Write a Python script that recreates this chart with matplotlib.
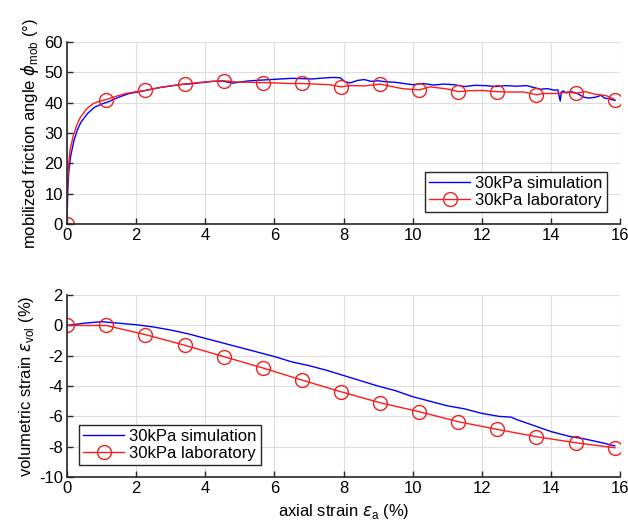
import matplotlib
matplotlib.use("Agg")
import matplotlib.pyplot as plt

plt.rcParams["font.family"] = ["Liberation Sans", "DejaVu Sans"]
plt.rcParams["mathtext.fontset"] = "custom"
plt.rcParams["mathtext.rm"] = "Liberation Sans"
plt.rcParams["mathtext.it"] = "DejaVu Sans:italic"
plt.rcParams["axes.unicode_minus"] = False

# friction angle, laboratory (dense curve) and marker positions
lab_x = [0, 0.02, 0.05, 0.09, 0.18, 0.28, 0.38, 0.57, 0.76, 0.95, 1.13, 1.4, 1.7, 2.0,
         2.26, 2.6, 3.0, 3.4, 3.8, 4.2, 4.53, 4.9, 5.3, 5.66, 6.0, 6.4, 6.79, 7.2, 7.6,
         7.92, 8.2, 8.6, 9.06, 9.4, 9.7, 10.19, 10.5, 11.0, 11.32, 11.6, 12.0, 12.45,
         12.8, 13.2, 13.58, 13.8, 14.2, 14.5, 14.72, 15.0, 15.3, 15.6, 15.85]
lab_phi = [0, 14, 20, 24.5, 29, 32.5, 35, 38, 39.7, 40.5, 41, 42, 43, 43.6,
           44, 44.8, 45.5, 46.1, 46.6, 47, 47.2, 46.8, 46.7, 46.6, 46.5, 46.3, 46.3, 46.1, 45.9,
           45.2, 45.6, 45.5, 46.1, 45.3, 44.6, 44.2, 45.2, 44.5, 43.6, 43.9, 44, 43.6,
           43.5, 43.5, 42.6, 43, 43, 43.5, 43.1, 43.6, 42.7, 42.3, 41.0]
mark_x = [0, 1.13, 2.26, 3.4, 4.53, 5.66, 6.79, 7.92, 9.06, 10.19, 11.32, 12.45, 13.58, 14.72, 15.85]

# friction angle, simulation
sim_x = [0, 0.02, 0.05, 0.1, 0.2, 0.3, 0.4, 0.6, 0.8, 1.0, 1.2, 1.5, 1.8, 2.1, 2.4, 2.7,
         3.0, 3.3, 3.6, 3.9, 4.2, 4.5, 4.8, 5.0, 5.3, 5.6, 5.9, 6.2, 6.5, 6.8, 7.1, 7.4,
         7.7, 7.9, 8.05, 8.2, 8.4, 8.6, 8.8, 9.0, 9.2, 9.5, 9.8, 10.0, 10.3, 10.6, 10.9,
         11.2, 11.5, 11.8, 12.1, 12.4, 12.7, 13.0, 13.3, 13.5, 13.7, 13.9, 14.1, 14.2,
         14.27, 14.3, 14.35, 14.45, 14.6, 14.8, 14.95, 15.1, 15.3, 15.45, 15.55, 15.7, 15.85]
sim_phi = [0, 11, 17, 22, 27.5, 31, 33.5, 36.5, 38.5, 39.5, 40.3, 41.8, 43, 43.6, 44.3, 45,
           45.5, 46, 46.2, 46.6, 47, 47.1, 46.4, 46.8, 47.2, 47.4, 47.6, 47.8, 48, 47.9, 47.8, 48.1,
           48.3, 48.2, 46.8, 46.5, 47.3, 47.6, 47, 47.2, 46.9, 46.7, 46.2, 45.9, 46.3, 45.8, 46.1,
           45.9, 45.3, 45.7, 45.6, 45.3, 45.6, 45.4, 45.6, 45, 44.4, 44.6, 44.1, 44.2,
           40.5, 43.5, 43.8, 43.2, 43.6, 42.8, 41.8, 41.5, 41.8, 42.4, 41.5, 41.2, 40.7]

# volumetric strain
lab_vol = [0, 0, -0.6, -1.3, -2.05, -2.8, -3.6, -4.37, -5.1, -5.69, -6.35, -6.86, -7.34, -7.74, -8.07]
simv_x = [0, 0.5, 1.0, 1.5, 2.0, 2.5, 3.0, 3.5, 4.0, 4.5, 5.0, 5.5, 6.0, 6.5, 7.0, 7.5, 8.0,
          8.5, 9.0, 9.5, 10.0, 10.5, 11.0, 11.5, 12.0, 12.5, 12.85, 13.0, 13.5, 14.0, 14.5,
          15.0, 15.5, 15.85]
sim_vol = [0, 0.15, 0.25, 0.15, 0.05, -0.1, -0.3, -0.55, -0.85, -1.15, -1.45, -1.75, -2.05,
           -2.4, -2.65, -2.95, -3.3, -3.65, -4.0, -4.3, -4.7, -5.0, -5.3, -5.5, -5.8, -6.0,
           -6.05, -6.2, -6.6, -7.0, -7.3, -7.5, -7.75, -7.95]

mark_idx = [lab_x.index(v) for v in mark_x]
FS = 12
axc = "#262626"

fig = plt.figure(figsize=(6.28, 5.24), dpi=100)
ax1 = fig.add_axes([0.1067, 0.5725, 0.8806, 0.3475])
ax2 = fig.add_axes([0.1067, 0.0897, 0.8806, 0.347])


def style(ax):
    ax.grid(True, color="#dedede", lw=0.8)
    ax.set_axisbelow(True)
    for s in ("top", "right"):
        ax.spines[s].set_visible(False)
    for s in ("left", "bottom"):
        ax.spines[s].set_color(axc)
        ax.spines[s].set_linewidth(1.2)
    ax.tick_params(direction="in", length=4, width=1, colors=axc, labelsize=FS,
                   labelcolor="black", pad=3)
    ax.set_xlim(0, 16)
    ax.set_xticks(range(0, 17, 2))


def legend(ax, loc, anchor):
    ax.legend(loc=loc, bbox_to_anchor=anchor, borderaxespad=0, fontsize=FS,
              fancybox=False, edgecolor=axc, framealpha=1, handlelength=2.45,
              borderpad=0.25, labelspacing=0.1, handletextpad=0.3)


ax1.plot(sim_x, sim_phi, color="#0000ff", lw=1.0, label="30kPa simulation")
ax1.plot(lab_x, lab_phi, color="#ff1a1a", lw=1.0, marker="o", markevery=mark_idx, ms=10,
         mfc="none", mec="#ee2020", mew=1.0, label="30kPa laboratory")
style(ax1)
ax1.set_ylim(0, 60)
ax1.set_yticks(range(0, 61, 10))
ax1.set_ylabel(r"mobilized friction angle $\phi_{\mathrm{mob}}$ (°)", fontsize=FS, labelpad=2)
legend(ax1, "lower right", (0.976, 0.066))

ax2.plot(simv_x, sim_vol, color="#0000ff", lw=1.0, label="30kPa simulation")
ax2.plot(mark_x, lab_vol, color="#ff1a1a", lw=1.0, marker="o", ms=10,
         mfc="none", mec="#ee2020", mew=1.0, label="30kPa laboratory")
style(ax2)
ax2.set_ylim(-10, 2)
ax2.set_yticks(range(-10, 3, 2))
ax2.set_ylabel(r"volumetric strain $\epsilon_{\mathrm{vol}}$ (%)", fontsize=FS, labelpad=2)
ax2.set_xlabel(r"axial strain $\epsilon_{\mathrm{a}}$ (%)", fontsize=FS, labelpad=4)
legend(ax2, "lower left", (0.0217, 0.066))

fig.savefig("out.png", dpi=100)
